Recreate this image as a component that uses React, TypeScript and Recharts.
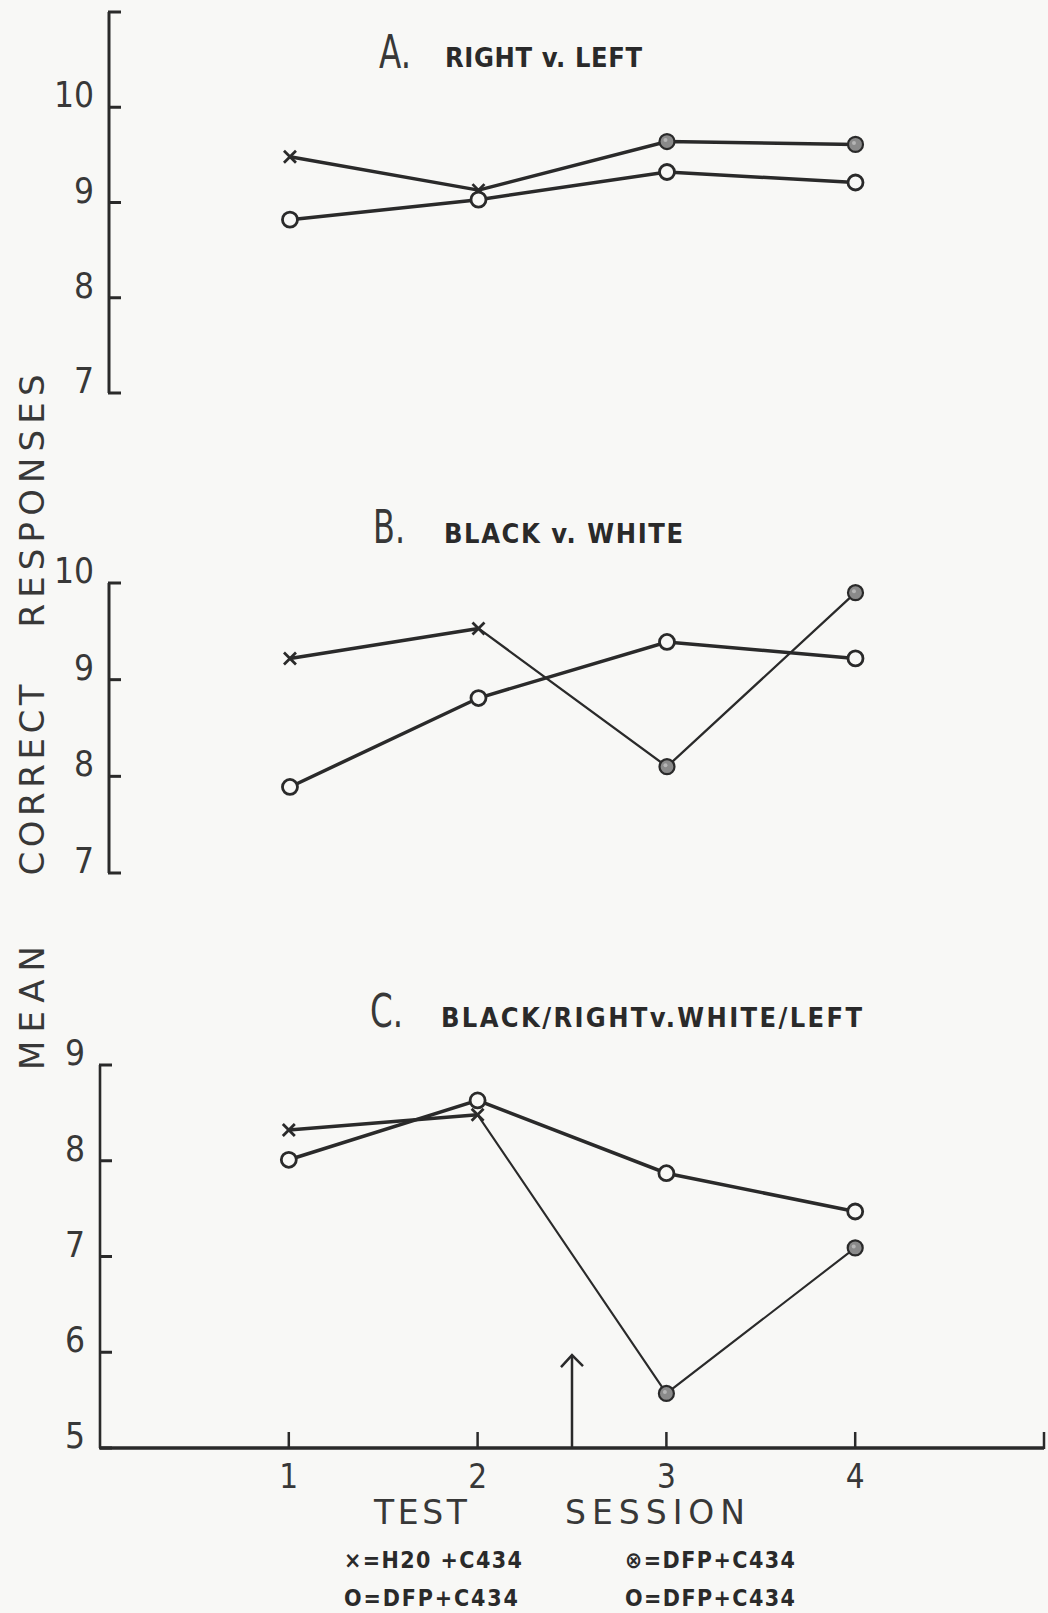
import React from "react";
import { LineChart, Line, XAxis, YAxis, ReferenceLine } from "recharts";

// Test sessions along the x axis
const sessions = [1, 2, 3, 4];

// Group 1: H2O + C434 for sessions 1–2, DFP + C434 (hatched) for sessions 3–4
// Group 2: DFP + C434 (open circles) throughout
const rightLeftGroup1 = [9.48, 9.13, 9.64, 9.61];
const rightLeftGroup2 = [8.82, 9.03, 9.32, 9.21];
const blackWhiteGroup1 = [9.22, 9.53, 8.1, 9.9];
const blackWhiteGroup2 = [7.89, 8.81, 9.39, 9.22];
const comboGroup1 = [8.32, 8.48, 5.57, 7.09];
const comboGroup2 = [8.01, 8.63, 7.87, 7.47];

const ticksA = [7, 8, 9, 10, 11];
const tickLabelsA = ["7", "8", "9", "10", ""];
const ticksB = [7, 8, 9, 10];
const tickLabelsB = ["7", "8", "9", "10"];
const ticksC = [5, 6, 7, 8, 9];
const tickLabelsC = ["5", "6", "7", "8", "9"];

const sessionTicks = [1, 2, 3, 4, 5];
const sessionTickLabels = ["1", "2", "3", "4", ""];

// drug given between sessions 2 and 3
const drugSession = 2.5;
const arrowTop = 5.97;

const PAPER = "#f8f8f6";
const INK = "#2a2a2a";
const INK_SOFT = "#383838";
const NUM_FONT = "'DejaVu Sans Condensed', 'DejaVu Sans', sans-serif";

type Row = { session: number; pre: number | null; post: number | null; open: number };

function buildRows(group1: number[], group2: number[]): Row[] {
  return sessions.map((s, i) => ({
    session: s,
    pre: i <= 1 ? group1[i] : null,
    post: i >= 1 ? group1[i] : null,
    open: group2[i],
  }));
}

function CrossDot(props: any) {
  const { cx, cy, index } = props;
  if (cx == null || cy == null) return <g key={`c-${index}`} />;
  const h = 6;
  return (
    <g key={`c-${index}`}>
      <line x1={cx - h} y1={cy - h} x2={cx + h} y2={cy + h} stroke={INK} strokeWidth={2.8} />
      <line x1={cx - h} y1={cy + h} x2={cx + h} y2={cy - h} stroke={INK} strokeWidth={2.8} />
    </g>
  );
}

function FilledDot(props: any) {
  const { cx, cy, index } = props;
  if (cx == null || cy == null || index < 2) return <g key={`f-${index}`} />;
  return (
    <g key={`f-${index}`}>
      <circle cx={cx} cy={cy} r={7.5} fill="#8a8a8a" stroke={INK} strokeWidth={2.2} />
      <circle cx={cx - 1.5} cy={cy - 1.5} r={2} fill="#b5b5b5" />
    </g>
  );
}

function OpenDot(props: any) {
  const { cx, cy, index } = props;
  if (cx == null || cy == null) return <g key={`o-${index}`} />;
  return <circle key={`o-${index}`} cx={cx} cy={cy} r={7.5} fill={PAPER} stroke={INK} strokeWidth={2.8} />;
}

function YTick(props: any) {
  const { payload, axisX, ticks, labels } = props;
  const y = payload.coordinate;
  const label = labels[ticks.indexOf(payload.value)] ?? "";
  return (
    <g>
      <line x1={axisX - 1} y1={y} x2={axisX + 12} y2={y} stroke={INK} strokeWidth={3} />
      <text x={axisX - 15} y={y} textAnchor="end" fontFamily={NUM_FONT} fontSize={35} fill={INK_SOFT}>
        {label}
      </text>
    </g>
  );
}

function SessionTick(props: any) {
  const { payload } = props;
  const x = payload.coordinate;
  const label = sessionTickLabels[sessionTicks.indexOf(payload.value)] ?? "";
  return (
    <g>
      <line x1={x} y1={489} x2={x} y2={472} stroke={INK} strokeWidth={2.5} />
      <text x={x} y={528} textAnchor="middle" fontFamily={NUM_FONT} fontSize={33} fill={INK_SOFT}>
        {label}
      </text>
    </g>
  );
}

type PanelProps = {
  top: number;
  height: number;
  marginTop: number;
  marginBottom: number;
  axisX: number;
  xDomain: [number, number];
  yDomain: [number, number];
  ticks: number[];
  labels: string[];
  rows: Row[];
  postWidth: number;
  withSessionAxis?: boolean;
};

function Panel(p: PanelProps) {
  return (
    <div style={{ position: "absolute", left: 0, top: p.top }}>
      <LineChart
        width={1048}
        height={p.height}
        data={p.rows}
        margin={{ top: p.marginTop, right: 4, bottom: p.marginBottom, left: 0 }}
      >
        <XAxis
          type="number"
          dataKey="session"
          domain={p.xDomain}
          allowDataOverflow
          hide={!p.withSessionAxis}
          ticks={sessionTicks}
          height={40}
          axisLine={{ stroke: INK, strokeWidth: 3.5 }}
          tickLine={false}
          tick={(t: any) => <SessionTick {...t} />}
          interval={0}
        />
        <YAxis
          type="number"
          domain={p.yDomain}
          ticks={p.ticks}
          width={p.axisX}
          interval={0}
          axisLine={{ stroke: INK, strokeWidth: p.withSessionAxis ? 2.6 : 3 }}
          tickLine={false}
          tick={(t: any) => <YTick {...t} axisX={p.axisX} ticks={p.ticks} labels={p.labels} />}
        />
        {p.withSessionAxis && (
          <ReferenceLine
            segment={[
              { x: drugSession, y: p.yDomain[0] },
              { x: drugSession, y: arrowTop },
            ]}
            stroke={INK}
            strokeWidth={2.5}
            shape={(s: any) => (
              <g>
                <line x1={s.x1} y1={s.y1} x2={s.x2} y2={s.y2} stroke={INK} strokeWidth={2.5} />
                <polyline
                  points={`${s.x2 - 11},${Math.min(s.y1, s.y2) + 12} ${s.x2},${Math.min(s.y1, s.y2)} ${s.x2 + 11},${Math.min(s.y1, s.y2) + 11}`}
                  fill="none"
                  stroke={INK}
                  strokeWidth={2.5}
                />
              </g>
            )}
          />
        )}
        <Line
          type="linear"
          dataKey="post"
          stroke={INK}
          strokeWidth={p.postWidth}
          dot={(d: any) => <FilledDot {...d} />}
          activeDot={false}
          isAnimationActive={false}
        />
        <Line
          type="linear"
          dataKey="pre"
          stroke={INK}
          strokeWidth={3.5}
          dot={(d: any) => <CrossDot {...d} />}
          activeDot={false}
          isAnimationActive={false}
        />
        <Line
          type="linear"
          dataKey="open"
          stroke={INK}
          strokeWidth={3.5}
          dot={(d: any) => <OpenDot {...d} />}
          activeDot={false}
          isAnimationActive={false}
        />
      </LineChart>
    </div>
  );
}

const TITLE_FONT = "'DejaVu Sans Condensed', 'DejaVu Sans', sans-serif";

function Labels() {
  const big = { fontFamily: TITLE_FONT, fontSize: 46, fill: INK_SOFT, fontWeight: 300 } as const;
  const small = { fontFamily: TITLE_FONT, fontSize: 27, fill: INK, fontWeight: 700 } as const;
  const axisWord = { fontFamily: "'DejaVu Sans', sans-serif", fontSize: 33, fill: INK_SOFT } as const;
  const legend = { fontFamily: TITLE_FONT, fontSize: 23, fill: INK, fontWeight: 700 } as const;
  return (
    <svg
      width={1048}
      height={1613}
      style={{ position: "absolute", left: 0, top: 0, pointerEvents: "none" }}
    >
      <text x={379} y={68} {...big} textLength={32} lengthAdjust="spacingAndGlyphs">A.</text>
      <text x={445} y={67} {...small} textLength={197} lengthAdjust="spacing">RIGHT v. LEFT</text>

      <text x={373} y={543} {...big} textLength={32} lengthAdjust="spacingAndGlyphs">B.</text>
      <text x={444} y={543} {...small} textLength={239} lengthAdjust="spacing">BLACK v. WHITE</text>

      <text x={370} y={1027} {...big} textLength={33} lengthAdjust="spacingAndGlyphs">C.</text>
      <text x={441} y={1027} {...small} textLength={421} lengthAdjust="spacing">BLACK/RIGHTv.WHITE/LEFT</text>

      <text x={44} y={501} {...axisWord} fontSize={34} textAnchor="middle" transform="rotate(-90 44 501)" textLength={253} lengthAdjust="spacing">RESPONSES</text>
      <text x={44} y={780} {...axisWord} fontSize={34} textAnchor="middle" transform="rotate(-90 44 780)" textLength={191} lengthAdjust="spacing">CORRECT</text>
      <text x={44} y={1008} {...axisWord} fontSize={34} textAnchor="middle" transform="rotate(-90 44 1008)" textLength={124} lengthAdjust="spacing">MEAN</text>

      <text x={374} y={1524} {...axisWord} textLength={93} lengthAdjust="spacing">TEST</text>
      <text x={565} y={1524} {...axisWord} textLength={180} lengthAdjust="spacing">SESSION</text>

      <text x={344} y={1568} {...legend} textLength={178} lengthAdjust="spacing">×=H20 +C434</text>
      <text x={344} y={1606} {...legend} textLength={174} lengthAdjust="spacing">O=DFP+C434</text>
      <text x={625} y={1568} {...legend} textLength={170} lengthAdjust="spacing">⊗=DFP+C434</text>
      <text x={625} y={1606} {...legend} textLength={170} lengthAdjust="spacing">O=DFP+C434</text>
    </svg>
  );
}

export default function App() {
  return (
    <div
      style={{
        position: "absolute",
        left: 0,
        top: 0,
        width: 1048,
        height: 1613,
        background: PAPER,
        overflow: "hidden",
      }}
    >
      <Panel
        top={0}
        height={420}
        marginTop={12}
        marginBottom={27}
        axisX={109}
        xDomain={[0.04, 5]}
        yDomain={[7, 11]}
        ticks={ticksA}
        labels={tickLabelsA}
        rows={buildRows(rightLeftGroup1, rightLeftGroup2)}
        postWidth={3.5}
      />
      <Panel
        top={480}
        height={420}
        marginTop={103}
        marginBottom={27}
        axisX={109}
        xDomain={[0.04, 5]}
        yDomain={[7, 10]}
        ticks={ticksB}
        labels={tickLabelsB}
        rows={buildRows(blackWhiteGroup1, blackWhiteGroup2)}
        postWidth={2.3}
      />
      <Panel
        top={960}
        height={653}
        marginTop={105}
        marginBottom={125}
        axisX={100}
        xDomain={[0, 5]}
        yDomain={[5, 9]}
        ticks={ticksC}
        labels={tickLabelsC}
        rows={buildRows(comboGroup1, comboGroup2)}
        postWidth={2.1}
        withSessionAxis
      />
      <Labels />
    </div>
  );
}
